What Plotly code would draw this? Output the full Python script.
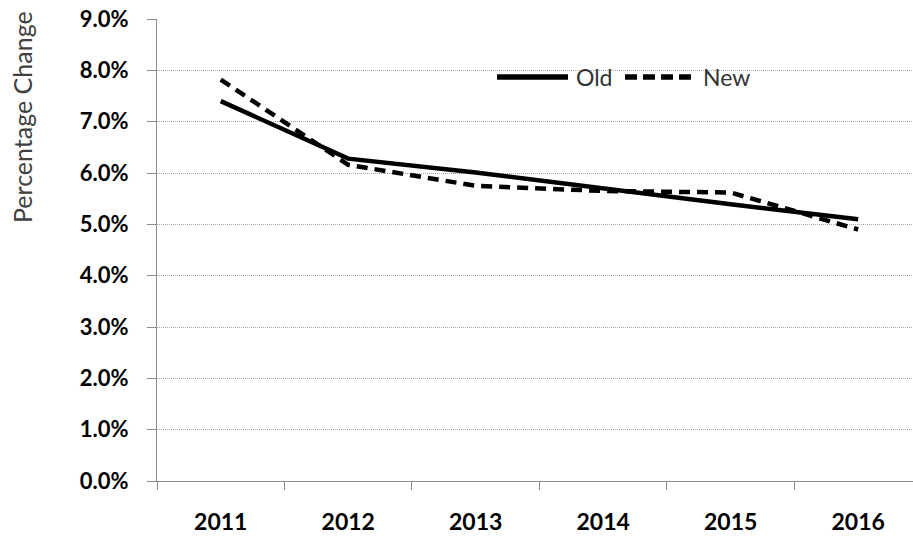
import plotly.graph_objects as go

# Annual percentage change, old vs. new series
years = ["2011", "2012", "2013", "2014", "2015", "2016"]
old_values = [7.40, 6.28, 6.01, 5.69, 5.39, 5.10]
new_values = [7.82, 6.16, 5.75, 5.65, 5.62, 4.90]
series_names = ["Old", "New"]

W, H = 913, 540
ML, MR, MT, MB = 157, 0, 19, 59
PW, PH = W - ML - MR, H - MT - MB


def px_x(x):
    return (x - ML) / PW


def px_y(y):
    return (H - MB - y) / PH


fig = go.Figure()
fig.add_trace(go.Scatter(x=years, y=old_values, mode="lines", name=series_names[0],
                         line=dict(color="black", width=4.5), showlegend=False))
fig.add_trace(go.Scatter(x=years, y=new_values, mode="lines", name=series_names[1],
                         line=dict(color="black", width=4.5, dash="11px,7px"),
                         showlegend=False))

# Hand-drawn legend with long line samples
legend_items = [
    (series_names[0], 497, 568, 574, "solid"),
    (series_names[1], 625, 695, 701, "12px,6px"),
]
for name, x0, x1, xt, dash in legend_items:
    fig.add_shape(type="line", xref="paper", yref="paper",
                  x0=px_x(x0), x1=px_x(x1), y0=px_y(77), y1=px_y(77),
                  line=dict(color="black", width=5.5, dash=dash))
    fig.add_annotation(xref="paper", yref="paper", x=px_x(xt), y=px_y(77),
                       xanchor="left", yanchor="middle", showarrow=False,
                       text=name, font=dict(family="Lato", size=23, color="#333333"))

# Rotated axis title near the top
fig.add_annotation(xref="paper", yref="paper", x=px_x(22), y=px_y(117),
                   xanchor="center", yanchor="middle", showarrow=False,
                   text="Percentage Change", textangle=-90,
                   font=dict(family="Lato", size=25, color="#404040"))

fig.update_xaxes(
    type="category", range=[-0.5, 5.43], tickson="boundaries",
    ticks="outside", ticklen=8, tickcolor="#8c8c8c", tickwidth=1,
    showline=True, linecolor="#8c8c8c", linewidth=1, showgrid=False,
    tickfont=dict(family="Lato", size=23, color="black", weight="bold"),
    ticklabelstandoff=20,
)
fig.update_yaxes(
    range=[0, 9], dtick=1, tickformat=".1f", ticksuffix="%",
    ticks="outside", ticklen=9, tickcolor="#8c8c8c", tickwidth=1,
    showline=True, linecolor="#8c8c8c", linewidth=1,
    showgrid=True, gridcolor="#a6a6a6", gridwidth=1, griddash="1px,1px",
    zeroline=False,
    tickfont=dict(family="Lato", size=22, color="black", weight="bold"),
    ticklabelstandoff=14,
)
fig.update_layout(
    width=W, height=H, margin=dict(l=ML, r=MR, t=MT, b=MB, autoexpand=False),
    paper_bgcolor="white", plot_bgcolor="white",
)
fig.write_html("out.html")
